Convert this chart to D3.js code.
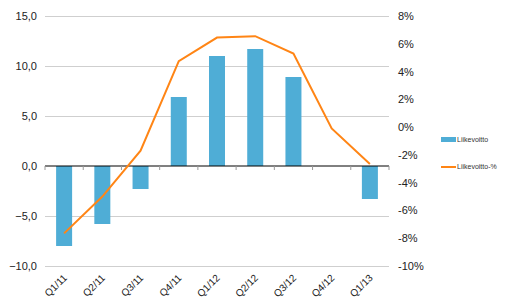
<!DOCTYPE html>
<html>
<head>
<meta charset="utf-8">
<script src="https://cdn.jsdelivr.net/npm/d3@7"></script>
<style>
  body { margin: 0; background: #fff; }
  svg { font-family: "Liberation Sans", Arial, sans-serif; }
</style>
</head>
<body>
<svg id="chart" width="505" height="300"></svg>
<script>
const categories = ['Q1/11', 'Q2/11', 'Q3/11', 'Q4/11', 'Q1/12', 'Q2/12', 'Q3/12', 'Q4/12', 'Q1/13'];
const liikevoitto = [-8.0, -5.8, -2.3, 6.9, 11.0, 11.7, 8.9, 0, -3.3];
const liikevoittoPct = [-7.65, -5.0, -1.7, 4.75, 6.45, 6.55, 5.3, -0.1, -2.65];
const leftTicks = [-10, -5, 0, 5, 10, 15];
const rightTicks = [-10, -8, -6, -4, -2, 0, 2, 4, 6, 8];
const seriesNames = ['Liikevoitto', 'Liikevoitto-%'];

const blue = '#4fadd6';
const orange = '#ff8515';

const svg = d3.select('#chart');
const plotLeft = 45, plotRight = 389, plotTop = 16, plotBottom = 266;

const x = d3.scaleBand().domain(categories).range([plotLeft, plotRight]);
const y = d3.scaleLinear().domain([-10, 15]).range([plotBottom, plotTop]);
const y2 = d3.scaleLinear().domain([-10, 8]).range([plotBottom, plotTop]);

const fmt = d => d3.format('.1f')(d).replace('.', ',');

// gridlines
svg.append('g')
    .selectAll('line')
    .data(leftTicks.filter(d => d !== 0))
    .enter().append('line')
    .attr('x1', plotLeft).attr('x2', plotRight)
    .attr('y1', d => y(d) + 0.5).attr('y2', d => y(d) + 0.5)
    .style('stroke', '#cfcfcf');

// left axis labels
svg.append('g')
    .attr('transform', `translate(${plotLeft},0)`)
    .call(d3.axisLeft(y).tickValues(leftTicks).tickFormat(fmt).tickSize(0).tickPadding(8))
    .call(g => g.select('.domain').remove())
    .call(g => g.selectAll('text').style('font-size', '11px').style('fill', '#222').style('font-family', '"Liberation Sans", Arial, sans-serif'));

// right axis labels
svg.append('g')
    .attr('transform', `translate(${plotRight},0)`)
    .call(d3.axisRight(y2).tickValues(rightTicks).tickFormat(d => d + '%').tickSize(0).tickPadding(9))
    .call(g => g.select('.domain').remove())
    .call(g => g.selectAll('text').style('font-size', '11px').style('fill', '#222').style('font-family', '"Liberation Sans", Arial, sans-serif'));

// bars
const bw = 16;
svg.append('g')
    .selectAll('rect')
    .data(liikevoitto)
    .enter().append('rect')
    .attr('x', (d, i) => x(categories[i]) + x.bandwidth() / 2 - bw / 2)
    .attr('y', d => y(Math.max(0, d)))
    .attr('width', bw)
    .attr('height', d => Math.abs(y(d) - y(0)))
    .style('fill', blue);

// zero axis with ticks
const xAxis = svg.append('g')
    .attr('transform', `translate(0,${y(0)})`);
xAxis.append('line')
    .attr('x1', plotLeft).attr('x2', plotRight)
    .style('stroke', '#000');
xAxis.selectAll('.tk')
    .data(categories.concat(['end']))
    .enter().append('line')
    .attr('x1', (d, i) => i < categories.length ? x(d) : plotRight)
    .attr('x2', (d, i) => i < categories.length ? x(d) : plotRight)
    .attr('y1', 0).attr('y2', 4)
    .style('stroke', '#999');

// category labels
svg.append('g')
    .selectAll('text')
    .data(categories)
    .enter().append('text')
    .attr('transform', d => `translate(${x(d) + x.bandwidth() / 2 + 1},${plotBottom + 10}) rotate(-45)`)
    .attr('text-anchor', 'end')
    .attr('dy', '0.35em')
    .style('font-size', '10px')
    .style('fill', '#222')
    .text(d => d);

// line
const line = d3.line()
    .x((d, i) => x(categories[i]) + x.bandwidth() / 2)
    .y(d => y2(d));
svg.append('path')
    .datum(liikevoittoPct)
    .attr('d', line)
    .style('fill', 'none')
    .style('stroke', orange)
    .style('stroke-width', 2);

// legend
const legend = svg.append('g').attr('transform', 'translate(441,0)');
legend.append('rect')
    .attr('x', 0).attr('y', 137).attr('width', 15).attr('height', 5)
    .style('fill', blue);
legend.append('text')
    .attr('x', 16).attr('y', 140).attr('dy', '0.35em')
    .style('font-size', '7px').style('fill', '#333')
    .text(seriesNames[0]);
legend.append('line')
    .attr('x1', 0).attr('x2', 15).attr('y1', 167).attr('y2', 167)
    .style('stroke', orange).style('stroke-width', 2);
legend.append('text')
    .attr('x', 16).attr('y', 167).attr('dy', '0.35em')
    .style('font-size', '7px').style('fill', '#333')
    .text(seriesNames[1]);
</script>
</body>
</html>
